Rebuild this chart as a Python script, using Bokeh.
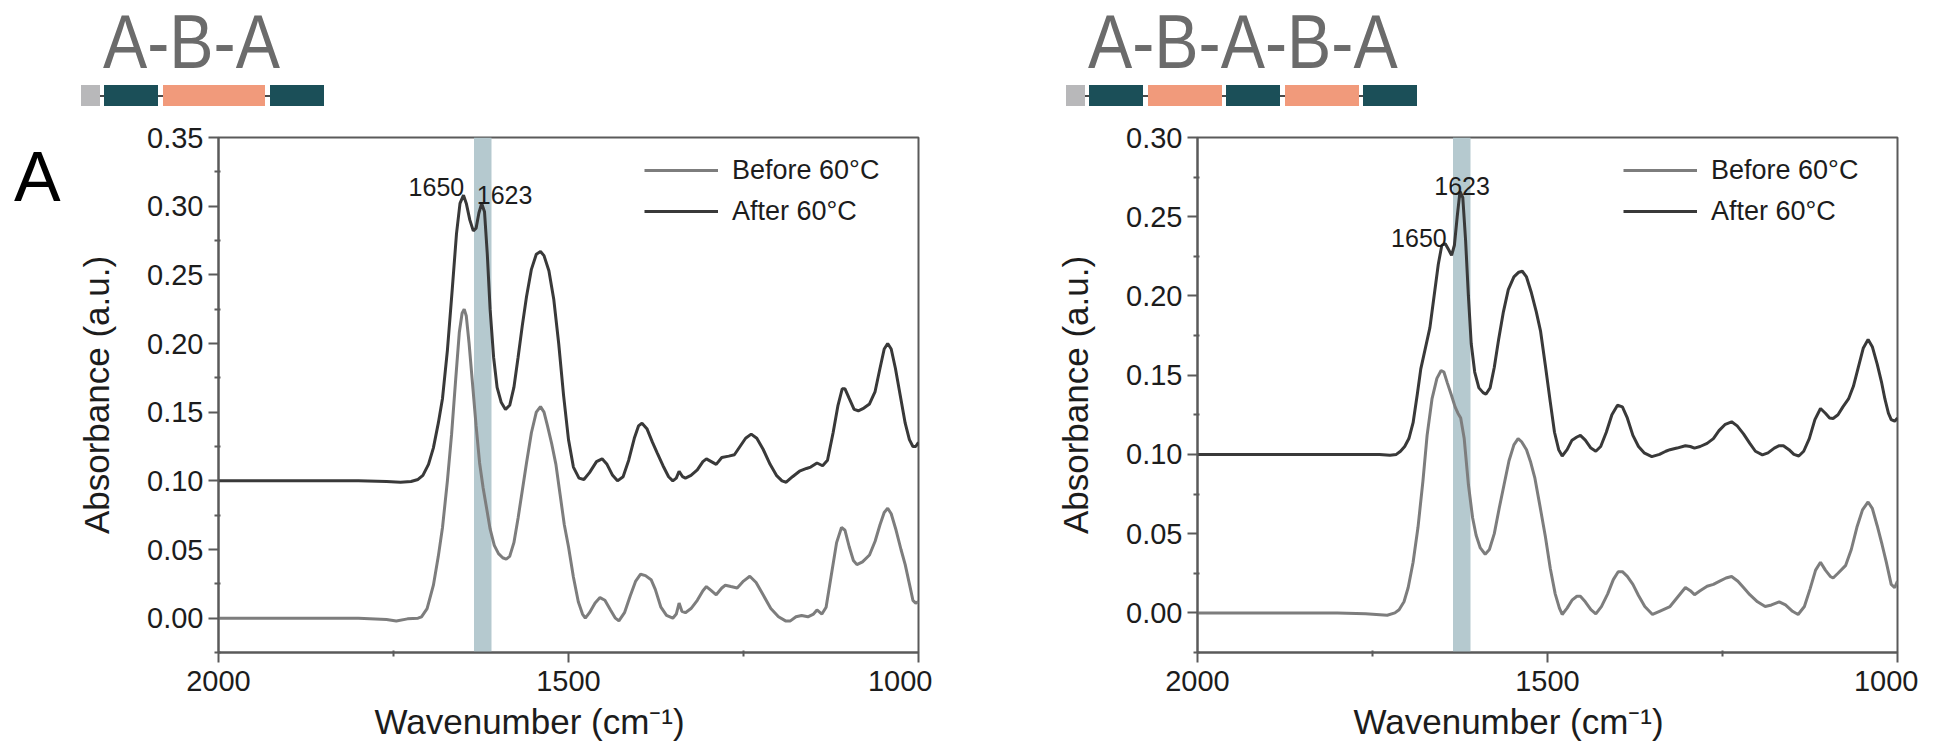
from bokeh.plotting import figure
from bokeh.models import Range1d, FixedTicker, PrintfTickFormatter, BoxAnnotation, Label, Legend, LegendItem, Div
from bokeh.layouts import row, column
from bokeh.embed import file_html
from bokeh.resources import INLINE

# ---------------- data ----------------
panel_titles = ["A-B-A", "A-B-A-B-A"]
panel_letter = "A"
aba_blocks = ["tag", "A", "B", "A"]
aba_lengths = [0.35, 1.0, 1.9, 1.0]
ababa_blocks = ["tag", "A", "B", "A", "B", "A"]
ababa_lengths = [0.35, 1.0, 1.37, 1.0, 1.37, 1.0]

series_names = ["Before 60°C", "After 60°C"]
band_range = [1635, 1610]

left_after_wn = [2000, 1900, 1800, 1760, 1740, 1725, 1715, 1708, 1700, 1693, 1686, 1680, 1673, 1666, 1660, 1655,
                 1650, 1646, 1641, 1636, 1632, 1628, 1624, 1620, 1616, 1612, 1607, 1602, 1596, 1590, 1584, 1578,
                 1572, 1566, 1560, 1553, 1546, 1540, 1535, 1528, 1521, 1514, 1507, 1500, 1493, 1485, 1478, 1470,
                 1460, 1452, 1445, 1437, 1430, 1422, 1414, 1406, 1400, 1395, 1388, 1380, 1373, 1365, 1357, 1351,
                 1346, 1342, 1337, 1333, 1325, 1316, 1308, 1303, 1296, 1289, 1281, 1271, 1263, 1255, 1247, 1239,
                 1231, 1222, 1212, 1203, 1195, 1189, 1180, 1170, 1160, 1154, 1145, 1137, 1130, 1122, 1115, 1109,
                 1105, 1099, 1092, 1086, 1078, 1070, 1062, 1055, 1049, 1044, 1039, 1033, 1026, 1019, 1013, 1008,
                 1004, 1000]
left_after_abs = [0.100, 0.100, 0.100, 0.0995, 0.099, 0.0995, 0.101, 0.104, 0.112, 0.124, 0.142, 0.160, 0.195, 0.240,
                  0.280, 0.302, 0.308, 0.302, 0.290, 0.282, 0.284, 0.295, 0.302, 0.296, 0.265, 0.225, 0.190, 0.168,
                  0.157, 0.152, 0.155, 0.168, 0.190, 0.213, 0.234, 0.254, 0.265, 0.267, 0.264, 0.253, 0.232, 0.200,
                  0.162, 0.130, 0.110, 0.102, 0.101, 0.106, 0.114, 0.116, 0.112, 0.104, 0.100, 0.103, 0.115, 0.131,
                  0.140, 0.142, 0.138, 0.128, 0.120, 0.111, 0.103, 0.100, 0.102, 0.107, 0.103, 0.102, 0.104, 0.108,
                  0.114, 0.116, 0.114, 0.112, 0.117, 0.118, 0.119, 0.125, 0.131, 0.134, 0.131, 0.123, 0.112, 0.104,
                  0.100, 0.099, 0.103, 0.107, 0.109, 0.110, 0.113, 0.111, 0.115, 0.135, 0.155, 0.167, 0.167, 0.160,
                  0.152, 0.151, 0.153, 0.156, 0.165, 0.182, 0.196, 0.200, 0.196, 0.182, 0.162, 0.142, 0.130, 0.125,
                  0.125, 0.128]

left_before_wn = [2000, 1900, 1800, 1760, 1746, 1730, 1715, 1710, 1702, 1693, 1686, 1680, 1673, 1667, 1661, 1656,
                  1652, 1649, 1646, 1642, 1637, 1632, 1627, 1622, 1617, 1612, 1606, 1600, 1594, 1589, 1584, 1578,
                  1572, 1566, 1560, 1553, 1546, 1540, 1535, 1530, 1524, 1518, 1512, 1506, 1500, 1493, 1486, 1480,
                  1476, 1470, 1462, 1455, 1448, 1440, 1433, 1428, 1420, 1412, 1404, 1397, 1390, 1382, 1376, 1368,
                  1360, 1351, 1346, 1342, 1338, 1333, 1325, 1316, 1308, 1303, 1296, 1289, 1281, 1276, 1268, 1259,
                  1250, 1241, 1232, 1222, 1211, 1200, 1190, 1183, 1175, 1167, 1158, 1150, 1145, 1138, 1132, 1125,
                  1117, 1110, 1105, 1099, 1093, 1088, 1080, 1070, 1062, 1055, 1049, 1044, 1039, 1032, 1025, 1019,
                  1013, 1008, 1004, 1000]
left_before_abs = [0.000, 0.000, 0.000, -0.001, -0.002, -0.0005, 0.000, 0.001, 0.007, 0.024, 0.045, 0.066, 0.100,
                   0.134, 0.175, 0.208, 0.222, 0.225, 0.220, 0.200, 0.170, 0.140, 0.113, 0.095, 0.080, 0.065, 0.053,
                   0.047, 0.044, 0.043, 0.045, 0.055, 0.073, 0.093, 0.113, 0.135, 0.150, 0.154, 0.150, 0.140, 0.127,
                   0.112, 0.090, 0.068, 0.052, 0.030, 0.012, 0.003, 0.000, 0.004, 0.011, 0.015, 0.013, 0.006, 0.000,
                   -0.002, 0.004, 0.016, 0.027, 0.032, 0.031, 0.028, 0.021, 0.008, 0.002, 0.000, 0.003, 0.011, 0.005,
                   0.004, 0.007, 0.013, 0.020, 0.023, 0.020, 0.017, 0.022, 0.024, 0.023, 0.022, 0.027, 0.0305, 0.026,
                   0.017, 0.007, 0.001, -0.002, -0.002, 0.001, 0.002, 0.001, 0.003, 0.006, 0.003, 0.008, 0.030, 0.055,
                   0.066, 0.064, 0.052, 0.042, 0.039, 0.041, 0.046, 0.056, 0.068, 0.077, 0.080, 0.076, 0.064, 0.050,
                   0.039, 0.025, 0.013, 0.011, 0.012]

right_after_wn = [2000, 1900, 1800, 1740, 1725, 1716, 1710, 1704, 1698, 1692, 1686, 1681, 1675, 1668, 1662, 1656,
                  1651, 1646, 1641, 1637, 1633, 1629, 1625, 1621, 1617, 1613, 1609, 1604, 1598, 1592, 1588, 1582,
                  1576, 1570, 1563, 1556, 1548, 1541, 1536, 1530, 1523, 1516, 1510, 1503, 1496, 1490, 1484, 1479,
                  1472, 1465, 1458, 1453, 1446, 1438, 1431, 1424, 1416, 1408, 1400, 1393, 1386, 1378, 1370, 1362,
                  1351, 1340, 1331, 1325, 1315, 1303, 1296, 1290, 1282, 1272, 1263, 1255, 1246, 1237, 1229, 1220,
                  1211, 1203, 1193, 1185, 1176, 1169, 1163, 1155, 1148, 1141, 1134, 1126, 1118, 1110, 1103, 1097,
                  1092, 1085, 1078, 1070, 1063, 1056, 1049, 1042, 1036, 1029, 1023, 1018, 1013, 1009, 1004, 1000]
right_after_abs = [0.100, 0.100, 0.100, 0.100, 0.0995, 0.100, 0.102, 0.105, 0.110, 0.120, 0.138, 0.154, 0.166,
                   0.180, 0.200, 0.220, 0.232, 0.233, 0.229, 0.2256, 0.232, 0.250, 0.266, 0.262, 0.235, 0.200, 0.170,
                   0.152, 0.142, 0.139, 0.138, 0.142, 0.155, 0.172, 0.190, 0.204, 0.212, 0.215, 0.2156, 0.212, 0.202,
                   0.190, 0.178, 0.156, 0.133, 0.114, 0.103, 0.099, 0.103, 0.109, 0.111, 0.112, 0.109, 0.104, 0.102,
                   0.105, 0.114, 0.125, 0.131, 0.130, 0.123, 0.112, 0.105, 0.101, 0.0986, 0.100, 0.102, 0.103, 0.104,
                   0.1055, 0.105, 0.104, 0.105, 0.107, 0.110, 0.115, 0.119, 0.1206, 0.118, 0.113, 0.107, 0.102, 0.0997,
                   0.101, 0.104, 0.1055, 0.1055, 0.103, 0.100, 0.099, 0.102, 0.110, 0.122, 0.129, 0.126, 0.123, 0.1227,
                   0.125, 0.130, 0.135, 0.143, 0.155, 0.167, 0.1725, 0.168, 0.157, 0.146, 0.135, 0.126, 0.122, 0.121,
                   0.123]

right_before_wn = [2000, 1900, 1800, 1760, 1729, 1718, 1712, 1705, 1699, 1692, 1685, 1678, 1672, 1665, 1658, 1652,
                   1648, 1643, 1637, 1632, 1628, 1624, 1619, 1613, 1607, 1602, 1596, 1589, 1583, 1576, 1569, 1562,
                   1555, 1548, 1542, 1537, 1530, 1524, 1518, 1511, 1503, 1496, 1489, 1483, 1479, 1472, 1465, 1458,
                   1453, 1446, 1438, 1431, 1423, 1414, 1406, 1399, 1393, 1386, 1378, 1370, 1361, 1350, 1340, 1325,
                   1314, 1303, 1296, 1290, 1282, 1272, 1263, 1254, 1245, 1237, 1228, 1220, 1211, 1200, 1189, 1180,
                   1169, 1160, 1150, 1142, 1133, 1125, 1117, 1110, 1103, 1096, 1092, 1085, 1074, 1066, 1058, 1050,
                   1042, 1036, 1029, 1022, 1016, 1009, 1004, 1000]
right_before_abs = [0.000, 0.000, 0.000, -0.0005, -0.0015, 0.000, 0.002, 0.007, 0.016, 0.032, 0.054, 0.083, 0.112,
                    0.135, 0.148, 0.153, 0.152, 0.145, 0.137, 0.130, 0.126, 0.123, 0.110, 0.081, 0.060, 0.049, 0.041,
                    0.037, 0.040, 0.050, 0.066, 0.081, 0.096, 0.106, 0.110, 0.108, 0.103, 0.095, 0.085, 0.068, 0.048,
                    0.028, 0.012, 0.003, -0.001, 0.003, 0.008, 0.0105, 0.0105, 0.007, 0.002, -0.0006, 0.004, 0.012,
                    0.021, 0.026, 0.026, 0.023, 0.018, 0.011, 0.004, -0.001, 0.001, 0.004, 0.010, 0.016, 0.014, 0.0115,
                    0.014, 0.0168, 0.018, 0.020, 0.022, 0.023, 0.020, 0.016, 0.0115, 0.007, 0.004, 0.005, 0.007, 0.005,
                    0.001, -0.001, 0.004, 0.015, 0.027, 0.032, 0.027, 0.023, 0.022, 0.025, 0.030, 0.040, 0.054, 0.065,
                    0.070, 0.066, 0.055, 0.043, 0.032, 0.018, 0.016, 0.020]

x_ticks = [2000, 1500, 1000]
x_minor = [1750, 1250]
left_y_ticks = [0.00, 0.05, 0.10, 0.15, 0.20, 0.25, 0.30, 0.35]
left_y_minor = [-0.025, 0.025, 0.075, 0.125, 0.175, 0.225, 0.275, 0.325]
right_y_ticks = [0.00, 0.05, 0.10, 0.15, 0.20, 0.25, 0.30]
right_y_minor = [-0.025, 0.025, 0.075, 0.125, 0.175, 0.225, 0.275]

# peak labels: (text, wavenumber, absorbance, alignment)
left_peaks = [("1650", 1649, 0.3143, "right"), ("1623", 1631, 0.308, "left")]
right_peaks = [("1623", 1622, 0.2697, "center"), ("1650", 1644, 0.2363, "right")]

# ---------------- style / layout ----------------
FONT = "Liberation Sans"
C_BEFORE = "#7d7d7d"
C_AFTER = "#393939"
C_AXIS = "#5a5a5a"
C_TEXT = "#1c1c1c"
BLOCK_COLORS = {"tag": "#b8b8ba", "A": "#1b4f58", "B": "#f19a7b"}
A_PX = 54
GAP = 4.5
FRAME_W, FRAME_H = 700, 515
HEADER_H = 113
TOP_BORDER = 24
BOTTOM_BORDER = 91
LETTER_W = 60
PLOT_H = TOP_BORDER + FRAME_H + BOTTOM_BORDER
YMIN = -0.025


def make_plot(ymax, yticks, yminor, before, after, peaks, border_left, border_right):
    p = figure(frame_width=FRAME_W, frame_height=FRAME_H, x_range=Range1d(2000, 1000),
               y_range=Range1d(YMIN, ymax), toolbar_location=None, output_backend="svg", title=None,
               min_border_left=border_left, min_border_right=border_right,
               min_border_top=TOP_BORDER, min_border_bottom=BOTTOM_BORDER)
    p.grid.visible = False
    p.outline_line_color = C_AXIS
    p.outline_line_width = 2
    p.background_fill_color = "white"

    p.add_layout(BoxAnnotation(left=band_range[0], right=band_range[1], fill_color="#b5c9cf", fill_alpha=1.0,
                               line_alpha=0, level="underlay"))
    rb = p.line(before[0], before[1], line_color=C_BEFORE, line_width=3)
    ra = p.line(after[0], after[1], line_color=C_AFTER, line_width=3)

    p.xaxis.ticker = FixedTicker(ticks=x_ticks, minor_ticks=x_minor)
    p.yaxis.ticker = FixedTicker(ticks=yticks, minor_ticks=yminor)
    p.yaxis.formatter = PrintfTickFormatter(format="%.2f")
    p.xaxis.formatter = PrintfTickFormatter(format="%d")
    for ax in (p.xaxis, p.yaxis):
        ax.axis_line_color = C_AXIS
        ax.axis_line_width = 2
        ax.major_tick_line_color = C_AXIS
        ax.major_tick_line_width = 2
        ax.minor_tick_line_color = C_AXIS
        ax.minor_tick_line_width = 2
        ax.major_tick_in = 0
        ax.major_tick_out = 10
        ax.minor_tick_in = 2
        ax.minor_tick_out = 4
        ax.major_label_text_font = FONT
        ax.major_label_text_font_size = "29px"
        ax.major_label_text_color = C_TEXT
        ax.axis_label_text_font = FONT
        ax.axis_label_text_font_size = "35px"
        ax.axis_label_text_font_style = "normal"
        ax.axis_label_text_color = C_TEXT
    p.yaxis.major_label_standoff = 5
    p.yaxis.axis_label_standoff = 28
    p.xaxis.major_label_standoff = 8
    p.xaxis.axis_label_standoff = 8
    p.xaxis.axis_label = "Wavenumber (cm⁻¹)" + "\u00a0" * 8
    p.yaxis.axis_label = "Absorbance (a.u.)"

    legend = Legend(items=[LegendItem(label=series_names[0], renderers=[rb]),
                           LegendItem(label=series_names[1], renderers=[ra])],
                    location="top_right", margin=17, padding=0, border_line_alpha=0, background_fill_alpha=0,
                    label_text_font=FONT, label_text_font_size="27px", label_text_color=C_TEXT,
                    glyph_width=74, glyph_height=32, label_height=32, label_standoff=14, spacing=9,
                    label_width=169)
    p.add_layout(legend)

    for txt, x, y, al in peaks:
        p.add_layout(Label(x=x, y=y, text=txt, text_align=al, text_baseline="alphabetic",
                           text_font=FONT, text_font_size="25px", text_color=C_TEXT))
    return p


def header_html(title, title_left, blocks, lengths, blocks_left):
    parts = [f'<div style="position:absolute;left:{title_left}px;top:-2px;font-family:\'{FONT}\';'
             f'font-size:76px;line-height:normal;color:#6b6b6b;white-space:nowrap;'
             f'transform:scaleX(0.873);transform-origin:0 0;">{title}</div>']
    lefts, widths = [], []
    cur = blocks_left
    for L in lengths:
        lefts.append(cur)
        widths.append(L * A_PX)
        cur = cur + L * A_PX + GAP
    total = lefts[-1] + widths[-1] - lefts[0]
    parts.append(f'<div style="position:absolute;left:{lefts[0]:.1f}px;top:94.5px;width:{total:.1f}px;'
                 f'height:2px;background:#4a4a4a;"></div>')
    for b, l0, w in zip(blocks, lefts, widths):
        parts.append(f'<div style="position:absolute;left:{l0:.1f}px;top:84.7px;width:{w:.1f}px;'
                     f'height:21.6px;background:{BLOCK_COLORS[b]};"></div>')
    return "".join(parts)


pL = make_plot(0.35, left_y_ticks, left_y_minor, (left_before_wn, left_before_abs),
               (left_after_wn, left_after_abs), left_peaks, 158, 14)
pR = make_plot(0.30, right_y_ticks, right_y_minor, (right_before_wn, right_before_abs),
               (right_after_wn, right_after_abs), right_peaks, 265, 21)

hdr = Div(width=1918, height=HEADER_H, margin=0,
          text='<div style="position:relative;width:1918px;height:%dpx;">' % HEADER_H
               + header_html(panel_titles[0], 103, aba_blocks, aba_lengths, 80.7)
               + header_html(panel_titles[1], 1088, ababa_blocks, ababa_lengths, 1065.7)
               + '</div>')
letter = Div(width=LETTER_W, height=PLOT_H, margin=0,
             text='<div style="position:relative;width:%dpx;height:%dpx;">' % (LETTER_W, PLOT_H)
                  + f'<div style="position:absolute;left:14px;top:24px;font-family:\'{FONT}\';font-size:70px;'
                    f'line-height:normal;color:#000;">{panel_letter}</div></div>')

layout = column(hdr, row(letter, pL, pR))
open("out.html", "w").write(file_html(layout, INLINE))
